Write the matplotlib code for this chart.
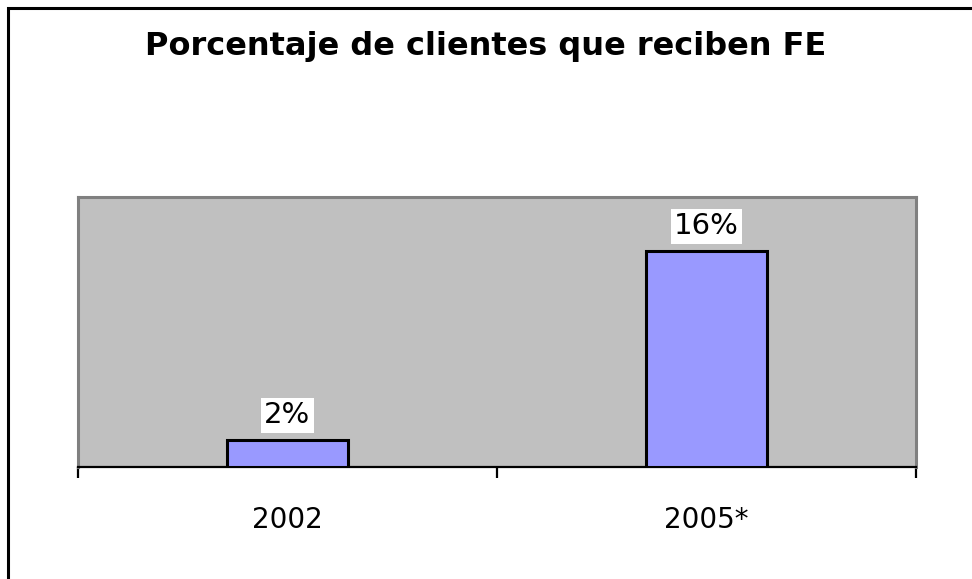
import matplotlib.pyplot as plt
from matplotlib.patches import Rectangle

categorias = ['2002', '2005*']
porcentajes = [2, 16]
etiquetas = ['2%', '16%']

fig = plt.figure(figsize=(9.72, 5.79), dpi=100)
fig.patch.set_facecolor('white')

# outer frame (cut off on right and bottom like the original)
fig.patches.append(Rectangle((8/972, -0.1), 1.2, 1.1 - 8/579, transform=fig.transFigure,
                             fill=False, edgecolor='black', linewidth=2.2))

ax = fig.add_axes([78/972, 1 - 467/579, (916 - 78)/972, (467 - 197)/579])
ax.set_facecolor('#c0c0c0')

x = range(len(categorias))
bars = ax.bar(x, porcentajes, width=0.29, color='#9999ff', edgecolor='black', linewidth=2.2, zorder=3)

for b, lab in zip(bars, etiquetas):
    ax.text(b.get_x() + b.get_width()/2, b.get_height() + 0.8, lab, ha='center', va='bottom',
            fontsize=21, color='black', zorder=4,
            bbox=dict(facecolor='white', edgecolor='none', boxstyle='square,pad=0.12'))

ax.set_xlim(-0.5, 1.5)
ax.set_ylim(0, 20)
ax.set_yticks([])

ax.set_xticks([-0.5, 0.5, 1.5])
ax.set_xticklabels([])
ax.set_xticks([0, 1], minor=True)
ax.set_xticklabels(categorias, minor=True, fontsize=20)
ax.tick_params(axis='x', which='major', direction='out', length=8, width=1.6, color='black')
ax.tick_params(axis='x', which='minor', length=0, pad=28)

for s in ['left', 'top', 'right']:
    ax.spines[s].set_color('#808080')
    ax.spines[s].set_linewidth(2.2)
ax.spines['bottom'].set_color('black')
ax.spines['bottom'].set_linewidth(1.6)

fig.text(0.5, 1 - 47/579, 'Porcentaje de clientes que reciben FE', ha='center', va='center',
         fontsize=23, fontweight='bold')

fig.savefig('out.png', dpi=100)
